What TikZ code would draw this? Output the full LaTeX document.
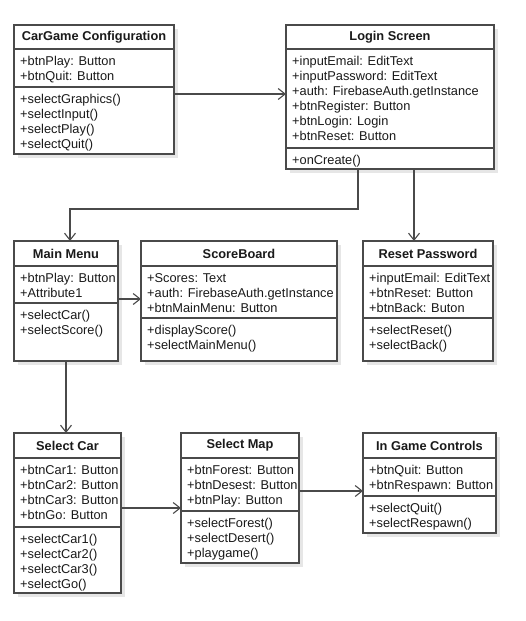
\documentclass[tikz,border=0pt]{standalone}
\usepackage{fontspec}
\setmainfont{Liberation Sans}
\usetikzlibrary{arrows.meta}
\definecolor{linec}{HTML}{4A4A4A}
\definecolor{shadowc}{HTML}{E6E6E6}
\definecolor{textc}{HTML}{1A1A1A}
\tikzset{
  classbox/.style={draw=linec, line width=1.1pt, fill=white, inner sep=0pt, outer sep=0pt, anchor=north west},
  divline/.style={draw=linec, line width=1.1pt},
  ctitle/.style={font=\bfseries\fontsize{12.8}{15}\selectfont, text=textc, inner sep=0pt},
  cbody/.style={anchor=north west, align=left, inner sep=0pt, text=textc, font=\fontsize{12.8}{15}\selectfont},
  conn/.style={draw=linec, line width=1.1pt, -{Straight Barb[length=7pt,width=11pt]}}
}
% name, left, top, right, bottom, div1, div2, title
\newcommand{\umlbox}[8]{%
  \fill[shadowc] (#2+4,#3+4) rectangle (#4+4,#5+4);
  \node[classbox, minimum width={(#4-#2)*1pt}, minimum height={(#5-#3)*1pt}] (#1) at (#2,#3) {};
  \draw[divline] (#2,#6) -- (#4,#6);
  \draw[divline] (#2,#7) -- (#4,#7);
  \node[ctitle] (#1-title) at ({(#2+#4)/2},{(#3+#6)/2}) {#8};
}
\begin{document}
\begin{tikzpicture}[x=1pt,y=-1pt]
\useasboundingbox (0,0) rectangle (526,621);
\fill[white] (0,0) rectangle (526,621);

\umlbox{cfg}{14}{25}{174}{154}{49}{87}{CarGame Configuration}
\node[cbody] (cfg-a) at (20,54.3) {\strut+btnPlay: Button\\+btnQuit: Button};
\node[cbody] (cfg-m) at (20,92.3) {\strut+selectGraphics()\\+selectInput()\\+selectPlay()\\+selectQuit()};

\umlbox{login}{286}{25}{494}{169}{49}{148}{Login Screen}
\node[cbody] (login-a) at (292,54.3) {\strut+inputEmail: EditText\\+inputPassword: EditText\\+auth: FirebaseAuth.getInstance\\+btnRegister: Button\\+btnLogin: Login\\+btnReset: Button};
\node[cbody] (login-m) at (292,153.3) {\strut+onCreate()};

\umlbox{menu}{14}{241}{118}{361}{266}{303}{Main Menu}
\node[cbody] (menu-a) at (20,271.3) {\strut+btnPlay: Button\\+Attribute1};
\node[cbody] (menu-m) at (20,308.3) {\strut+selectCar()\\+selectScore()};

\umlbox{score}{141}{241}{337}{361}{266}{318}{ScoreBoard}
\node[cbody] (score-a) at (147,271.3) {\strut+Scores: Text\\+auth: FirebaseAuth.getInstance\\+btnMainMenu: Button};
\node[cbody] (score-m) at (147,323.3) {\strut+displayScore()\\+selectMainMenu()};

\umlbox{reset}{363}{241}{493}{361}{266}{318}{Reset Password}
\node[cbody] (reset-a) at (369,271.3) {\strut+inputEmail: EditText\\+btnReset: Button\\+btnBack: Buton};
\node[cbody] (reset-m) at (369,323.3) {\strut+selectReset()\\+selectBack()};

\umlbox{car}{14}{433}{121}{593}{458}{527}{Select Car}
\node[cbody] (car-a) at (20,463.3) {\strut+btnCar1: Button\\+btnCar2: Button\\+btnCar3: Button\\+btnGo: Button};
\node[cbody] (car-m) at (20,532.3) {\strut+selectCar1()\\+selectCar2()\\+selectCar3()\\+selectGo()};

\umlbox{map}{181}{433}{299}{563}{458}{511}{Select Map}
\node[cbody] (map-a) at (187,463.3) {\strut+btnForest: Button\\+btnDesest: Button\\+btnPlay: Button};
\node[cbody] (map-m) at (187,516.3) {\strut+selectForest()\\+selectDesert()\\+playgame()};

\umlbox{igc}{363}{433}{496}{533}{458}{496}{In Game Controls}
\node[cbody] (igc-a) at (369,463.3) {\strut+btnQuit: Button\\+btnRespawn: Button};
\node[cbody] (igc-m) at (369,501.3) {\strut+selectQuit()\\+selectRespawn()};

% connectors
\draw[conn] ([yshift=-69pt]cfg.north east) -- ([yshift=-69pt]login.north west);
\draw[conn] ([xshift=72pt]login.south west) -- ++(0,40) -| ([xshift=56pt]menu.north west);
\draw[conn] ([xshift=128pt]login.south west) -- ([xshift=128pt]login.south west |- reset.north);
\draw[conn] ([yshift=-58pt]menu.north east) -- ([yshift=-58pt]score.north west);
\draw[conn] ([xshift=52pt]menu.south west) -- ([xshift=52pt]car.north west);
\draw[conn] ([yshift=-75pt]car.north east) -- ([yshift=-75pt]map.north west);
\draw[conn] ([yshift=-58pt]map.north east) -- ([yshift=-58pt]igc.north west);
\end{tikzpicture}
\end{document}
